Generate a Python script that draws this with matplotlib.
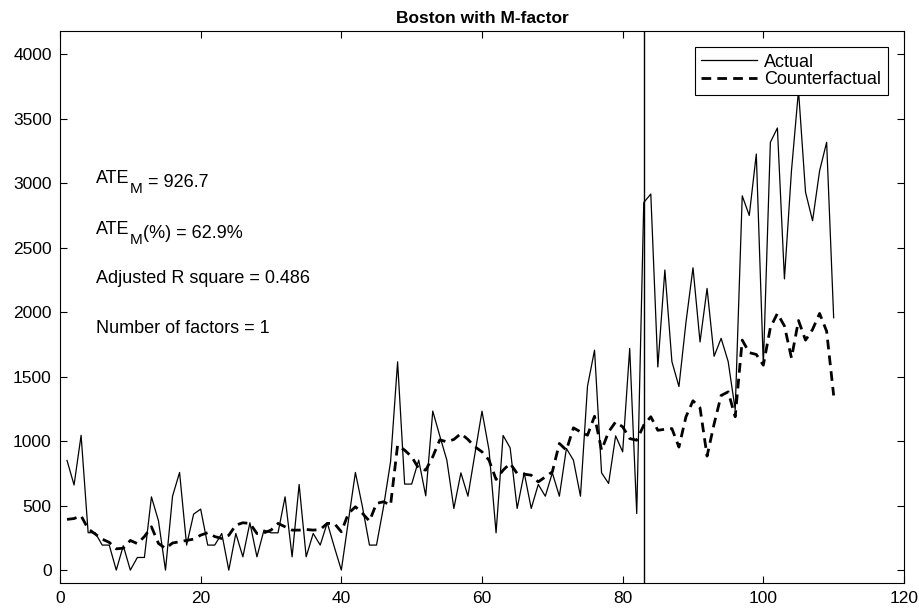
import numpy as np
import matplotlib

matplotlib.use("Agg")
import matplotlib.pyplot as plt

plt.rcParams["font.family"] = ["Liberation Sans", "DejaVu Sans"]

# monthly series, periods 1..110
periods = np.arange(1, 111)
actual = [
    850, 660, 1045, 290, 290, 194, 194, 0, 189, 0,
    98, 98, 568, 382, 0, 573, 757, 194, 434, 473,
    194, 194, 284, 0, 284, 103, 367, 103, 310, 289,
    289, 568, 103, 664, 103, 284, 194, 367, 180, 0,
    380, 757, 491, 194, 194, 491, 840, 1615, 667, 667,
    853, 576, 1233, 1040, 853, 478, 754, 573, 904, 1232,
    930, 289, 1044, 948, 478, 754, 478, 664, 573, 754,
    573, 943, 852, 573, 1426, 1705, 754, 672, 1041, 917,
    1718, 439, 2850, 2916, 1575, 2327, 1617, 1423, 1921, 2344,
    1769, 2184, 1658, 1797, 1617, 1244, 2902, 2750, 3226, 1589,
    3317, 3428, 2258, 3096, 3720, 2930, 2709, 3096, 3317, 1957,
]
counterfactual = [
    393, 400, 421, 320, 280, 240, 215, 165, 170, 230,
    205, 260, 336, 207, 168, 210, 220, 230, 240, 271,
    290, 260, 245, 270, 349, 367, 362, 284, 289, 310,
    362, 336, 310, 310, 315, 310, 315, 362, 362, 297,
    439, 491, 440, 380, 517, 530, 504, 969, 930, 879,
    788, 775, 879, 1010, 995, 1013, 1059, 1013, 956, 917,
    852, 703, 775, 827, 749, 744, 736, 684, 723, 762,
    982, 930, 1103, 1072, 1046, 1193, 930, 1072, 1149, 1111,
    1020, 1007, 1124, 1189, 1084, 1092, 1097, 954, 1189, 1313,
    1258, 884, 1133, 1354, 1382, 1189, 1783, 1686, 1672, 1589,
    1880, 1990, 1893, 1645, 1935, 1783, 1866, 1990, 1852, 1354,
]
T0 = 83  # intervention period

# (head, subscript, tail) for each annotation line
notes = [
    ("ATE", "M", " = 926.7"),
    ("ATE", "M", "(%) = 62.9%"),
    ("Adjusted R square = 0.486", "", ""),
    ("Number of factors = 1", "", ""),
]
note_y = [3000, 2605, 2225, 1840]

FS = 13

fig = plt.figure(figsize=(9.19, 6.09), dpi=100)
ax = fig.add_axes([60 / 919, 26 / 609, 844 / 919, 552 / 609])

ax.plot(periods, actual, color="black", lw=0.9, label="Actual")
ax.plot(periods, counterfactual, color="black", lw=2.0, dashes=(3.5, 2.2),
        label="Counterfactual")
ax.axvline(T0, color="black", lw=1.0)

for (head, sub, tail), y in zip(notes, note_y):
    t = ax.text(5.1, y, head, fontsize=FS, va="baseline", ha="left")
    if sub:
        s = ax.annotate(sub, xy=(1, 0), xycoords=t, xytext=(0.5, -4),
                        textcoords="offset points", fontsize=FS * 0.85,
                        va="baseline", ha="left")
        # tail: x after the subscript, baseline of the head
        ax.annotate(tail, xy=(1, 0), xycoords=(s, t), xytext=(0, 0),
                    textcoords="offset points", fontsize=FS,
                    va="baseline", ha="left")

ax.set_xlim(0, 120)
ax.set_ylim(-100, 4180)
ax.set_xticks(np.arange(0, 121, 20))
ax.set_yticks(np.arange(0, 4001, 500))
ax.tick_params(direction="in", top=True, right=True, labelsize=12.5,
               length=5, width=0.8, pad=6)
for s in ax.spines.values():
    s.set_linewidth(0.8)
ax.set_title("Boston with M-factor", fontsize=12.5, fontweight="bold", pad=6)

leg = ax.legend(loc="upper right", fontsize=13, fancybox=False,
                edgecolor="black", framealpha=1, handlelength=3.1,
                borderaxespad=0.9, borderpad=0.35, labelspacing=0.05,
                handletextpad=0.4)
leg.get_frame().set_linewidth(0.8)

fig.savefig("out.png", dpi=100)
